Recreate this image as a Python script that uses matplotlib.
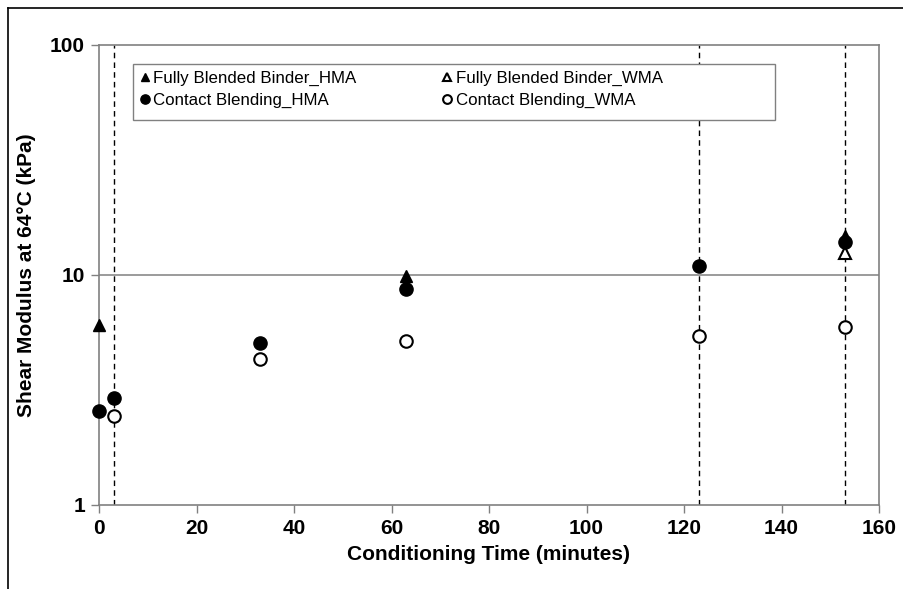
import matplotlib
matplotlib.use("Agg")
import matplotlib.pyplot as plt
from matplotlib.lines import Line2D
from matplotlib.patches import Rectangle

plt.rcParams['font.family'] = ['Liberation Sans', 'DejaVu Sans']

# Conditioning time (minutes) and shear modulus (kPa) at 64 °C
fb_hma_t = [0, 63, 153]
fb_hma_g = [6.05, 9.95, 14.8]

fb_wma_t = [153]
fb_wma_g = [12.5]

cb_hma_t = [0, 3, 33, 63, 123, 153]
cb_hma_g = [2.56, 2.92, 5.06, 8.7, 10.9, 13.9]

cb_wma_t = [3, 33, 63, 123, 153]
cb_wma_g = [2.44, 4.31, 5.16, 5.43, 5.94]

stage_lines = [3, 123, 153]
x_ticks = [0, 20, 40, 60, 80, 100, 120, 140, 160]
y_ticks = [1, 10, 100]

W, H = 904, 589
fig = plt.figure(figsize=(W / 100, H / 100), dpi=100)
ax = fig.add_axes([99 / W, 1 - 505 / H, 780 / W, 460 / H])

gray = '#808080'

ax.set_yscale('log')
ax.set_xlim(0, 160)
ax.set_ylim(1, 100)
ax.set_xticks(x_ticks)
ax.set_xticklabels([str(v) for v in x_ticks])
ax.set_yticks(y_ticks)
ax.set_yticklabels([str(v) for v in y_ticks])
ax.yaxis.set_minor_locator(matplotlib.ticker.NullLocator())

for s in ax.spines.values():
    s.set_color(gray)
    s.set_linewidth(1.2)

ax.tick_params(axis='both', direction='out', length=6, width=1, color=gray,
               labelsize=15, pad=4)
for lbl in ax.get_xticklabels() + ax.get_yticklabels():
    lbl.set_fontweight('bold')

# horizontal gridline at 10 kPa
ax.axhline(10, color=gray, linewidth=1.1, zorder=1)

# conditioning stage markers
for xv in stage_lines:
    ax.axvline(xv, color='black', linewidth=1.0, linestyle=(0, (4, 3)), zorder=1)

ms = 9
ax.plot(fb_hma_t, fb_hma_g, linestyle='none', marker='^', markersize=ms,
        color='black', label='Fully Blended Binder_HMA', zorder=3, clip_on=False)
ax.plot(fb_wma_t, fb_wma_g, linestyle='none', marker='^', markersize=ms,
        markerfacecolor='white', markeredgecolor='black', markeredgewidth=1.5,
        label='Fully Blended Binder_WMA', zorder=3, clip_on=False)
ax.plot(cb_hma_t, cb_hma_g, linestyle='none', marker='o', markersize=ms + 0.5,
        color='black', label='Contact Blending_HMA', zorder=4, clip_on=False)
ax.plot(cb_wma_t, cb_wma_g, linestyle='none', marker='o', markersize=ms,
        markerfacecolor='white', markeredgecolor='black', markeredgewidth=1.5,
        label='Contact Blending_WMA', zorder=4, clip_on=False)

# legend box (drawn separately so it can be wider than its entries)
box_x0, box_x1, box_y0, box_y1 = 133, 775, 64, 120
ax.add_patch(Rectangle((box_x0 / W, 1 - box_y1 / H),
                       (box_x1 - box_x0) / W, (box_y1 - box_y0) / H,
                       transform=fig.transFigure, facecolor='white',
                       edgecolor=gray, linewidth=1.0, zorder=5))

handles, labels = ax.get_legend_handles_labels()
order = [0, 2, 1, 3]
leg = ax.legend([handles[i] for i in order], [labels[i] for i in order],
                ncol=2, loc='upper left',
                bbox_to_anchor=(box_x0 / W, 1 - box_y0 / H),
                bbox_transform=fig.transFigure,
                frameon=False, fontsize=12.2,
                handlelength=0.6, handletextpad=0.2, columnspacing=5.05,
                markerscale=0.7, borderpad=0.4, labelspacing=0.4,
                borderaxespad=0)
leg.set_zorder(6)

ax.set_xlabel('Conditioning Time (minutes)', fontsize=15, fontweight='bold',
              labelpad=5)
ax.set_ylabel('Shear Modulus at 64°C (kPa)', fontsize=15, fontweight='bold',
              labelpad=10)

# outer chart frame (top and left edges)
fig.add_artist(Line2D([8 / W, 8 / W], [0, 1 - 8 / H], color='black',
                      linewidth=1.2, transform=fig.transFigure))
fig.add_artist(Line2D([8 / W, 1], [1 - 8 / H, 1 - 8 / H], color='black',
                      linewidth=1.2, transform=fig.transFigure))

fig.savefig('out.png', dpi=100)
